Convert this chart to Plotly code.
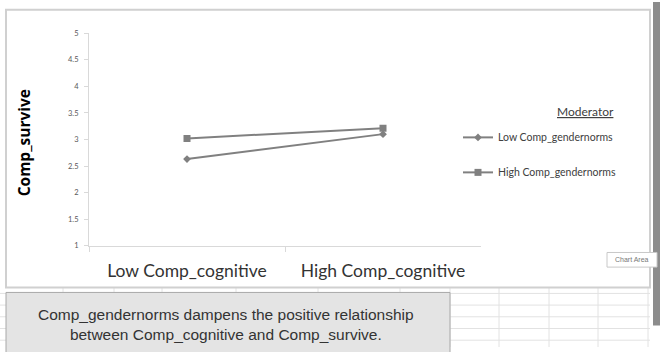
import plotly.graph_objects as go

W, H = 660, 352

categories = ["Low Comp_cognitive", "High Comp_cognitive"]
series_names = ["Low Comp_gendernorms", "High Comp_gendernorms"]
low_norms = [2.63, 3.10]
high_norms = [3.02, 3.21]
y_ticks = [1, 1.5, 2, 2.5, 3, 3.5, 4, 4.5, 5]
y_tick_labels = ["1", "1.5", "2", "2.5", "3", "3.5", "4", "4.5", "5"]


def px(x):
    return x / W


def py(y):
    return 1 - y / H


fig = go.Figure()
fig.add_trace(go.Scatter(
    x=categories, y=low_norms, name=series_names[0], mode="lines+markers",
    line=dict(color="#808080", width=2),
    marker=dict(symbol="diamond", size=6, color="#808080"),
    legendgroup="a"))
fig.add_trace(go.Scatter(
    x=categories, y=high_norms, name=series_names[1], mode="lines+markers",
    line=dict(color="#808080", width=2),
    marker=dict(symbol="square", size=7, color="#808080"),
    legendgroup="b"))

shapes = []
# spreadsheet grid below chart
for gx in [63, 114, 162, 236, 318, 400, 450, 499, 549, 598, 648]:
    shapes.append(dict(type="line", xref="paper", yref="paper",
                       x0=px(gx), x1=px(gx), y0=py(291), y1=py(352),
                       line=dict(color="#e2e2e2", width=1), layer="below"))
for gy in [297, 309, 321, 333, 345]:
    shapes.append(dict(type="line", xref="paper", yref="paper",
                       x0=px(0), x1=px(650), y0=py(gy), y1=py(gy),
                       line=dict(color="#e2e2e2", width=1), layer="below"))
# chart area border
shapes.append(dict(type="rect", xref="paper", yref="paper",
                   x0=px(6), x1=px(650), y0=py(291), y1=py(6),
                   line=dict(color="#d0d0d0", width=2), fillcolor="white", layer="below"))
# text box
shapes.append(dict(type="rect", xref="paper", yref="paper",
                   x0=px(6), x1=px(450), y0=py(360), y1=py(296),
                   line=dict(color="#a8a8a8", width=1), fillcolor="#e4e4e4", layer="above"))
# scrollbar
shapes.append(dict(type="rect", xref="paper", yref="paper",
                   x0=px(653), x1=px(661), y0=py(330), y1=py(-2),
                   line=dict(width=0), fillcolor="#8c8c8c", layer="above"))
# tooltip
shapes.append(dict(type="rect", xref="paper", yref="paper",
                   x0=px(607), x1=px(657), y0=py(270), y1=py(255),
                   line=dict(color="#c8c8c8", width=1), fillcolor="white", layer="above"))

annotations = [
    dict(text="<b>Comp_survive</b>", xref="paper", yref="paper", x=px(24), y=py(143),
         textangle=-90, showarrow=False, font=dict(family="Open Sans", size=15.5, color="#000000"),
         xanchor="center", yanchor="middle"),
    dict(text="<span style='text-decoration:underline'>Moderator</span>", xref="paper", yref="paper",
         x=px(585), y=py(110), showarrow=False,
         font=dict(family="Lato", size=12, color="#404040"), xanchor="center", yanchor="middle"),
    dict(text="Comp_gendernorms dampens the positive relationship<br>between Comp_cognitive and Comp_survive.",
         xref="paper", yref="paper", x=px(226), y=py(329), showarrow=False,
         font=dict(family="Liberation Sans", size=15.5, color="#333333"),
         xanchor="center", yanchor="middle", align="center"),
    dict(text="Chart Area", xref="paper", yref="paper", x=px(632), y=py(262.5), showarrow=False,
         font=dict(family="Liberation Sans Narrow, Liberation Sans", size=7, color="#777777"),
         xanchor="center", yanchor="middle"),
]

fig.update_layout(
    width=W, height=H,
    margin=dict(l=0, r=0, t=0, b=0),
    paper_bgcolor="white", plot_bgcolor="rgba(0,0,0,0)",
    shapes=shapes, annotations=annotations,
    showlegend=True,
    legend=dict(x=px(458), y=py(122), xanchor="left", yanchor="top",
                font=dict(family="Lato", size=10.5, color="#404040"),
                itemwidth=30, tracegroupgap=16, traceorder="grouped",
                bgcolor="rgba(0,0,0,0)"),
    xaxis=dict(domain=[px(89), px(481)], type="category", range=[-0.5, 1.5],
               showgrid=False, showline=True, linecolor="#d9d9d9", linewidth=1,
               ticks="outside", tickson="boundaries", ticklen=5, tickcolor="#d9d9d9",
               tickfont=dict(family="Lato", size=17.5, color="#333333"),
               ticklabelstandoff=9, zeroline=False, fixedrange=True),
    yaxis=dict(domain=[py(248), py(30)], range=[1, 5],
               tickvals=y_ticks, ticktext=y_tick_labels,
               showgrid=False, showline=True, linecolor="#d9d9d9", linewidth=1,
               ticks="outside", ticklen=4, tickcolor="#d9d9d9",
               tickfont=dict(family="Lato", size=7.5, color="#595959"),
               ticklabelstandoff=4, zeroline=False, fixedrange=True),
)

fig.write_html("out.html", config={"displayModeBar": False},
               post_script="document.body.style.margin='0';")
